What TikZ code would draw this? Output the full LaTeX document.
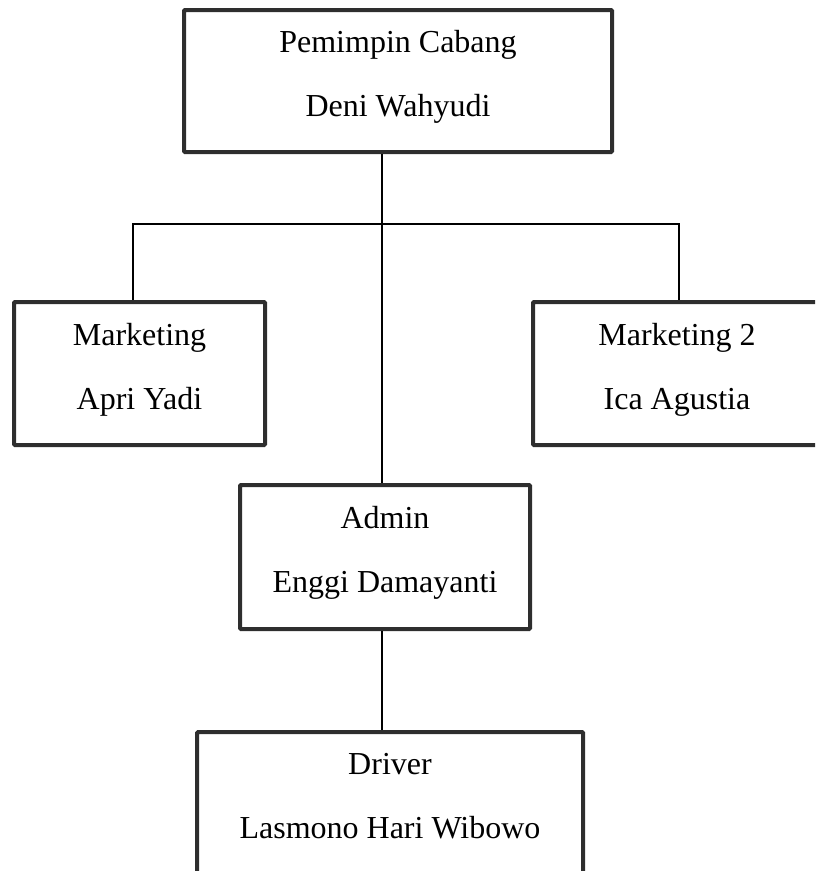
\documentclass[tikz,border=0pt]{standalone}
\usepackage{fontspec}
\setmainfont{Liberation Serif}
\usetikzlibrary{positioning,calc}

\begin{document}
\begin{tikzpicture}[
		x = 0.75pt, y = -0.75pt,
		jabatan/.style={rectangle,draw=black!82,line width=3pt,rounded corners=0.8pt,
			align=center,inner sep=0pt,text depth=11pt,font=\fontsize{24}{48}\selectfont},
		garis/.style={-,line width=1pt,draw=black}]

	\clip (0,0) rectangle (815,871);

	\node[jabatan, minimum width=321pt, minimum height=106.5pt] (kepala) at (398,81) {Pemimpin Cabang\\Deni Wahyudi};
	\node[jabatan, minimum width=188.25pt, minimum height=107.25pt] (mkt) at (139.5,373.5) {Marketing\\Apri Yadi};
	\node[jabatan, minimum width=216pt, minimum height=107.25pt] (mkt2) at (677,373.5) {Marketing 2\\Ica Agustia};
	\node[jabatan, minimum width=217.5pt, minimum height=108pt] (admin) at (385,557) {Admin\\Enggi Damayanti};
	\node[jabatan, minimum width=289.5pt, minimum height=106.5pt] (supir) at (390,803) {Driver\\Lasmono Hari Wibowo};

	\coordinate (jalur) at (382,224);

	\draw[garis] (kepala.south -| jalur) -- (admin.north -| jalur);
	\draw[garis] ([xshift=-4.9pt]mkt.north) |- (jalur) -| ([xshift=1.5pt]mkt2.north);
	\draw[garis] (admin.south -| jalur) -- (supir.north -| jalur);
\end{tikzpicture}
\end{document}
